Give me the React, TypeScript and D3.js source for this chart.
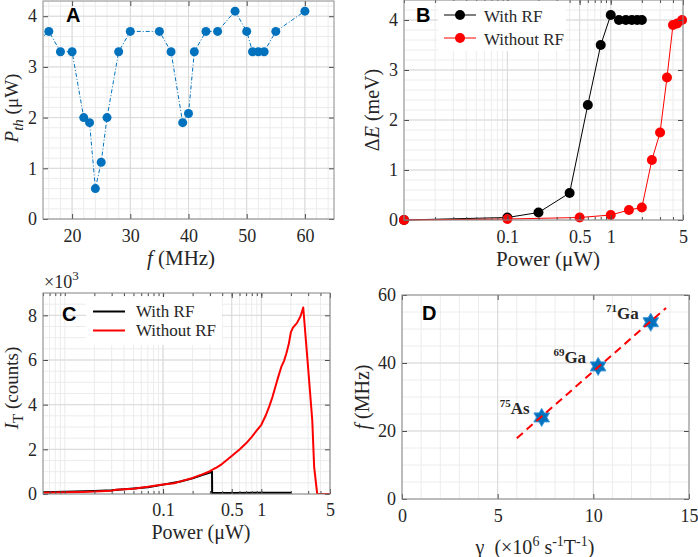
import React, { useEffect, useRef } from 'react';
import * as d3 from 'd3';

const W = 698;
const H = 557;
const SERIF = '"Liberation Serif", "Times New Roman", serif';
const SANS = '"Liberation Sans", Arial, sans-serif';
const BLUE = '#0072BD';
const RED = '#FF0000';
const INK = '#262626';

// A: threshold power vs RF frequency
const freqA = [14, 16, 18, 20, 22, 23, 24, 25, 26, 28, 30, 35, 37, 39, 40, 41, 43, 45, 48, 50, 51, 52, 53, 55, 60];
const pthA = [3.5, 3.7, 3.3, 3.3, 2.0, 1.9, 0.6, 1.12, 2.0, 3.3, 3.7, 3.7, 3.3, 1.9, 2.08, 3.3, 3.7, 3.7, 4.1, 3.7, 3.3, 3.3, 3.3, 3.7, 4.1];

// B: energy shift vs power
const powerWithRF = [0.01, 0.1, 0.2, 0.4, 0.6, 0.8, 1.0, 1.2, 1.4, 1.6, 1.8, 2.0];
const dEWithRF = [0, 0.05, 0.15, 0.54, 2.3, 3.5, 4.1, 4.0, 4.0, 4.0, 4.0, 4.0];
const powerNoRF = [0.01, 0.1, 0.5, 1.0, 1.5, 2.0, 2.5, 3.0, 3.5, 4.0, 4.4, 4.9];
const dENoRF = [0, 0.02, 0.05, 0.1, 0.2, 0.25, 1.2, 1.75, 2.85, 3.9, 3.93, 4.0];

// C: transmitted intensity vs power
const powerCWith = [0.006, 0.01, 0.02, 0.03, 0.05, 0.07, 0.1, 0.15, 0.2, 0.25, 0.3, 0.315, 0.316, 0.5, 1.0, 2.02];
const countsCWith = [80, 100, 135, 165, 245, 305, 420, 560, 700, 850, 960, 1000, 50, 50, 55, 60];
const powerCNo = [0.006, 0.01, 0.015, 0.02, 0.03, 0.033, 0.05, 0.07, 0.1, 0.13, 0.16, 0.2, 0.25, 0.3, 0.33, 0.35, 0.4, 0.5, 0.6, 0.7, 0.8, 0.9, 1.0, 1.1, 1.2, 1.3, 1.4, 1.5, 1.6, 1.7, 1.8, 1.9, 2.0, 2.1, 2.3, 2.5, 2.67, 3.0, 3.3, 3.45, 3.7, 3.75, 5.0];
const countsCNo = [60, 75, 95, 110, 150, 190, 240, 320, 430, 480, 600, 720, 880, 1020, 1130, 1180, 1350, 1700, 1990, 2270, 2560, 2850, 3100, 3480, 3900, 4350, 4850, 5300, 5700, 5950, 6300, 6700, 7250, 7450, 7650, 7950, 8350, 5600, 3300, 1200, 30, 0, 0];

// D: resonance frequency vs gyromagnetic ratio
const isoMass = ['75', '69', '71'];
const isoName = ['As', 'Ga', 'Ga'];
const gammaD = [7.3, 10.25, 13.0];
const freqD = [24, 39, 52];
const fitGamma = [6.0, 13.8];
const fitFreq = [17.9, 56.2];

type Box = { left: number; right: number; top: number; bottom: number };
type Part = { t: string; italic?: boolean; shift?: number; size?: number };
type Sel = d3.Selection<SVGGElement, unknown, null, undefined>;
type AxisOpts = {
    xTicks: number[]; yTicks: number[]; xMinor: number[]; yMinor: number[];
    xFmt: (d: number) => string; yFmt: (d: number) => string; logX?: boolean; pad?: number;
};

const range = (a: number, b: number, step: number) => d3.range(a, b + step / 2, step).map(v => +v.toFixed(6));

function logGrid(lo: number, hi: number): number[] {
    const out: number[] = [];
    for (let e = Math.floor(Math.log10(lo)); e <= Math.ceil(Math.log10(hi)); e++) {
        for (let n = 1; n <= 9; n++) {
            const v = +(n * Math.pow(10, e)).toPrecision(3);
            if (v >= lo && v <= hi) out.push(v);
        }
    }
    return out;
}

function rich(parent: Sel, x: number, y: number, parts: Part[], size: number, anchor = 'middle', rotate = false, weight = 'normal') {
    const t = parent.append('text')
        .attr('transform', rotate ? `translate(${x},${y}) rotate(-90)` : `translate(${x},${y})`)
        .attr('text-anchor', anchor)
        .attr('font-family', SERIF)
        .attr('font-size', size)
        .attr('font-weight', weight)
        .attr('fill', INK)
        .style('white-space', 'pre');
    let cur = 0;
    parts.forEach(p => {
        const s = p.shift ?? 0;
        t.append('tspan')
            .attr('dy', s - cur)
            .attr('font-size', p.size ?? size)
            .attr('font-style', p.italic ? 'italic' : 'normal')
            .text(p.t);
        cur = s;
    });
    return t;
}

// major + minor grid lines behind the data
function frame(g: Sel, box: Box, x: any, y: any, o: AxisOpts) {
    const grid = g.append('g');
    const vlines = (vals: number[], color: string) => grid.append('g').selectAll('line').data(vals).join('line')
        .attr('x1', d => x(d)).attr('x2', d => x(d))
        .attr('y1', box.top).attr('y2', box.bottom)
        .attr('stroke', color).attr('stroke-width', 1);
    const hlines = (vals: number[], color: string) => grid.append('g').selectAll('line').data(vals).join('line')
        .attr('y1', d => y(d)).attr('y2', d => y(d))
        .attr('x1', box.left).attr('x2', box.right)
        .attr('stroke', color).attr('stroke-width', 1);
    vlines(o.xMinor, '#ececec');
    hlines(o.yMinor, '#ececec');
    vlines(o.xTicks, '#d9d9d9');
    hlines(o.yTicks, '#d9d9d9');
}

// box, inward ticks on all four sides, tick labels
function axes(g: Sel, box: Box, x: any, y: any, o: AxisOpts) {
    const style = (a: Sel) => {
        a.select('.domain').remove();
        a.selectAll('.tick line').attr('stroke', '#4d4d4d');
        a.selectAll('text').attr('fill', INK).style('font-family', SERIF).style('font-size', '18px');
    };
    const bottom = g.append('g').attr('transform', `translate(0,${box.bottom})`)
        .call(d3.axisBottom(x).tickValues(o.xTicks).tickSizeInner(-5).tickSizeOuter(0).tickPadding(o.pad ?? 10).tickFormat((d: any) => o.xFmt(d)) as any);
    style(bottom);
    const top = g.append('g').attr('transform', `translate(0,${box.top})`)
        .call(d3.axisTop(x).tickValues(o.xTicks).tickSizeInner(-5).tickSizeOuter(0).tickFormat(() => '') as any);
    style(top);
    const left = g.append('g').attr('transform', `translate(${box.left},0)`)
        .call(d3.axisLeft(y).tickValues(o.yTicks).tickSizeInner(-5).tickSizeOuter(0).tickPadding(6).tickFormat((d: any) => o.yFmt(d)) as any);
    style(left);
    const right = g.append('g').attr('transform', `translate(${box.right},0)`)
        .call(d3.axisRight(y).tickValues(o.yTicks).tickSizeInner(-5).tickSizeOuter(0).tickFormat(() => '') as any);
    style(right);
    if (o.logX) {
        const mb = g.append('g').attr('transform', `translate(0,${box.bottom})`)
            .call(d3.axisBottom(x).tickValues(o.xMinor).tickSizeInner(-3).tickSizeOuter(0).tickFormat(() => '') as any);
        style(mb);
        const mt = g.append('g').attr('transform', `translate(0,${box.top})`)
            .call(d3.axisTop(x).tickValues(o.xMinor).tickSizeInner(-3).tickSizeOuter(0).tickFormat(() => '') as any);
        style(mt);
    }
    g.append('rect')
        .attr('x', box.left).attr('y', box.top)
        .attr('width', box.right - box.left).attr('height', box.bottom - box.top)
        .attr('fill', 'none').attr('stroke', '#8a8a8a').attr('stroke-width', 1);
}

function clip(svg: any, id: string, box: Box) {
    svg.append('clipPath').attr('id', id).append('rect')
        .attr('x', box.left).attr('y', box.top)
        .attr('width', box.right - box.left).attr('height', box.bottom - box.top);
}

function panelLetter(g: Sel, x: number, y: number, s: string) {
    g.append('text').attr('x', x).attr('y', y)
        .attr('font-family', SANS).attr('font-weight', 'bold').attr('font-size', 20)
        .attr('fill', '#000').text(s);
}

function hexagram(r: number) {
    const pts = d3.range(12).map(i => {
        const a = -Math.PI / 2 + i * Math.PI / 6;
        const rr = i % 2 === 0 ? r : r / Math.sqrt(3);
        return [rr * Math.cos(a), rr * Math.sin(a)];
    });
    return 'M' + pts.map(p => p.join(',')).join('L') + 'Z';
}

const App: React.FC = () => {
    const svgRef = useRef<SVGSVGElement | null>(null);

    useEffect(() => {
        if (!svgRef.current) return;
        const svg = d3.select(svgRef.current);
        svg.selectAll('*').remove();
        const root = svg.append('g') as unknown as Sel;

        // ---------- A ----------
        const boxA: Box = { left: 43, right: 334, top: 1, bottom: 219 };
        const xA = d3.scaleLinear().domain([15, 65]).range([boxA.left, boxA.right]);
        const yA = d3.scaleLinear().domain([0, 4.3]).range([boxA.bottom, boxA.top]);
        const optA: AxisOpts = {
            xTicks: [20, 30, 40, 50, 60], yTicks: [0, 1, 2, 3, 4],
            xMinor: range(16, 64, 2), yMinor: range(0.2, 4.2, 0.2),
            xFmt: d => String(d), yFmt: d => String(d),
        };
        const gA = root.append('g') as Sel;
        clip(svg, 'clipA', boxA);
        frame(gA, boxA, xA, yA, optA);
        const ptsA = freqA.map((f, i) => ({ f, p: pthA[i] }));
        gA.append('path').datum(ptsA)
            .attr('clip-path', 'url(#clipA)')
            .attr('fill', 'none').attr('stroke', BLUE).attr('stroke-width', 1)
            .attr('stroke-dasharray', '4,2,1,2')
            .attr('d', d3.line<{ f: number; p: number }>().x(d => xA(d.f)).y(d => yA(d.p)));
        gA.append('g').selectAll('circle').data(ptsA.filter(d => d.f >= 15)).join('circle')
            .attr('cx', d => xA(d.f)).attr('cy', d => yA(d.p)).attr('r', 4.5)
            .attr('fill', BLUE);
        axes(gA, boxA, xA, yA, optA);
        panelLetter(gA, 66, 22, 'A');
        rich(gA, 181, 265, [{ t: 'f', italic: true }, { t: ' (MHz)' }], 21);
        rich(gA, 18, 108, [{ t: 'P', italic: true }, { t: 'th', italic: true, shift: 5, size: 15 }, { t: ' (μW)', shift: 0 }], 19, 'middle', true);

        // ---------- B ----------
        const boxB: Box = { left: 404, right: 683, top: 0, bottom: 220 };
        const xB = d3.scaleLog().domain([0.01, 5]).range([boxB.left, boxB.right]);
        const yB = d3.scaleLinear().domain([0, 4.4]).range([boxB.bottom, boxB.top]);
        const optB: AxisOpts = {
            xTicks: [0.1, 0.5, 1, 5], yTicks: [0, 1, 2, 3, 4],
            xMinor: logGrid(0.01, 5), yMinor: range(0.2, 4.4, 0.2),
            xFmt: d => String(d), yFmt: d => String(d), logX: true,
        };
        const gB = root.append('g') as Sel;
        frame(gB, boxB, xB, yB, optB);
        const seriesB = [
            { color: '#000', pts: powerWithRF.map((p, i) => ({ p, e: dEWithRF[i] })) },
            { color: RED, pts: powerNoRF.map((p, i) => ({ p, e: dENoRF[i] })) },
        ];
        seriesB.forEach(s => {
            gB.append('path').datum(s.pts)
                .attr('fill', 'none').attr('stroke', s.color).attr('stroke-width', 1)
                .attr('d', d3.line<{ p: number; e: number }>().x(d => xB(d.p)).y(d => yB(d.e)));
            gB.append('g').selectAll('circle').data(s.pts).join('circle')
                .attr('cx', d => xB(d.p)).attr('cy', d => yB(d.e)).attr('r', 5)
                .attr('fill', s.color);
        });
        axes(gB, boxB, xB, yB, optB);
        // legend
        gB.append('rect').attr('x', 438).attr('y', 1).attr('width', 128).attr('height', 50).attr('fill', '#fff');
        [{ label: 'With RF', color: '#000', y: 15 }, { label: 'Without RF', color: RED, y: 38 }].forEach(l => {
            gB.append('line').attr('x1', 444).attr('x2', 476).attr('y1', l.y).attr('y2', l.y)
                .attr('stroke', l.color).attr('stroke-width', 1);
            gB.append('circle').attr('cx', 460).attr('cy', l.y).attr('r', 5).attr('fill', l.color);
            gB.append('text').attr('x', 484).attr('y', l.y + 6.5)
                .attr('font-family', SERIF).attr('font-size', 17).attr('fill', INK).text(l.label);
        });
        panelLetter(gB, 416, 22, 'B');
        rich(gB, 548, 266, [{ t: 'Power (μW)' }], 21);
        rich(gB, 379, 110, [{ t: 'Δ' }, { t: 'E', italic: true }, { t: ' (meV)' }], 20, 'middle', true);

        // ---------- C ----------
        const boxC: Box = { left: 43, right: 330, top: 293, bottom: 494 };
        const xC = d3.scaleLog().domain([0.006, 5]).range([boxC.left, boxC.right]);
        const yC = d3.scaleLinear().domain([0, 9000]).range([boxC.bottom, boxC.top]);
        const optC: AxisOpts = {
            xTicks: [0.1, 0.5, 1, 5], yTicks: [0, 2000, 4000, 6000, 8000],
            xMinor: logGrid(0.006, 5), yMinor: range(500, 9000, 500),
            xFmt: d => String(d), yFmt: d => String(d / 1000), logX: true, pad: 9,
        };
        const gC = root.append('g') as Sel;
        clip(svg, 'clipC', boxC);
        frame(gC, boxC, xC, yC, optC);
        const seriesC = [
            { color: '#000', pts: powerCWith.map((p, i) => ({ p, c: countsCWith[i] })) },
            { color: RED, pts: powerCNo.map((p, i) => ({ p, c: countsCNo[i] })) },
        ];
        seriesC.forEach(s => {
            gC.append('path').datum(s.pts)
                .attr('clip-path', 'url(#clipC)')
                .attr('fill', 'none').attr('stroke', s.color).attr('stroke-width', 2)
                .attr('stroke-linejoin', 'round')
                .attr('d', d3.line<{ p: number; c: number }>().x(d => xC(d.p)).y(d => yC(d.c)));
        });
        axes(gC, boxC, xC, yC, optC);
        gC.append('rect').attr('x', 86).attr('y', 297).attr('width', 136).attr('height', 48).attr('fill', '#fff');
        [{ label: 'With RF', color: '#000', y: 311.5 }, { label: 'Without RF', color: RED, y: 330.5 }].forEach(l => {
            gC.append('line').attr('x1', 93).attr('x2', 125).attr('y1', l.y).attr('y2', l.y)
                .attr('stroke', l.color).attr('stroke-width', 2);
            gC.append('text').attr('x', 136).attr('y', l.y + 5.5)
                .attr('font-family', SERIF).attr('font-size', 17).attr('fill', INK).text(l.label);
        });
        panelLetter(gC, 62, 321, 'C');
        rich(gC, 44, 288, [{ t: '×10', size: 18 }, { t: '3', shift: -8, size: 13 }], 18, 'start');
        rich(gC, 201, 539, [{ t: 'Power (μW)' }], 20);
        rich(gC, 18, 388, [{ t: 'I', italic: true }, { t: 'T', shift: 5, size: 15 }, { t: ' (counts)', shift: 0 }], 19, 'middle', true);

        // ---------- D ----------
        const boxD: Box = { left: 402, right: 689, top: 295, bottom: 499 };
        const xD = d3.scaleLinear().domain([0, 15]).range([boxD.left, boxD.right]);
        const yD = d3.scaleLinear().domain([0, 60]).range([boxD.bottom, boxD.top]);
        const optD: AxisOpts = {
            xTicks: [0, 5, 10, 15], yTicks: [0, 20, 40, 60],
            xMinor: range(1, 14, 1), yMinor: range(5, 55, 5),
            xFmt: d => String(d), yFmt: d => String(d),
        };
        const gD = root.append('g') as Sel;
        frame(gD, boxD, xD, yD, optD);
        const star = hexagram(9);
        gD.append('g').selectAll('path').data(gammaD).join('path')
            .attr('transform', (d, i) => `translate(${xD(d)},${yD(freqD[i])})`)
            .attr('d', star)
            .attr('fill', BLUE).attr('stroke', '#3d95d8').attr('stroke-width', 1);
        gD.append('path').datum(fitGamma.map((g, i) => [g, fitFreq[i]] as [number, number]))
            .attr('fill', 'none').attr('stroke', RED).attr('stroke-width', 2)
            .attr('stroke-dasharray', '8,5')
            .attr('d', d3.line<[number, number]>().x(d => xD(d[0])).y(d => yD(d[1])));
        gammaD.forEach((g, i) => {
            rich(gD, xD(g) - 12, yD(freqD[i]) - 3,
                [{ t: isoMass[i], shift: -7, size: 11 }, { t: isoName[i], shift: 0 }], 17, 'end', false, 'bold');
        });
        axes(gD, boxD, xD, yD, optD);
        panelLetter(gD, 422, 320, 'D');
        rich(gD, 535, 554, [
            { t: 'γ  (×10' }, { t: '6', shift: -8, size: 14 }, { t: ' s', shift: 0 },
            { t: '-1', shift: -8, size: 14 }, { t: 'T', shift: 0 }, { t: '-1', shift: -8, size: 14 }, { t: ')', shift: 0 },
        ], 20);
        rich(gD, 369, 397, [{ t: 'f', italic: true }, { t: ' (MHz)' }], 20, 'middle', true);
    }, []);

    return (
        <svg
            ref={svgRef}
            width={W}
            height={H}
            viewBox={`0 0 ${W} ${H}`}
            style={{ position: 'absolute', left: 0, top: 0, background: '#fff' }}
        />
    );
};

export default App;
